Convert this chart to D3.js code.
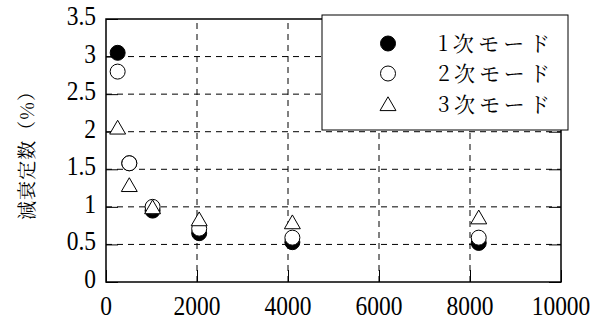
<!DOCTYPE html>
<html><head><meta charset="utf-8">
<script src="https://cdn.jsdelivr.net/npm/d3@7"></script>
<style>html,body{margin:0;padding:0;background:#fff;}svg{display:block;}</style>
</head><body>
<svg id="chart" width="608" height="322"></svg>
<script>
const xValues = [256, 512, 1024, 2048, 4096, 8192];
const mode1 = [3.05, 1.58, 0.95, 0.65, 0.53, 0.52];
const mode2 = [2.80, 1.58, 1.00, 0.71, 0.59, 0.59];
const mode3 = [2.05, 1.285, 0.99, 0.83, 0.79, 0.855];
const seriesNames = ["1次モード", "2次モード", "3次モード"];
const xTicks = [0, 2000, 4000, 6000, 8000, 10000];
const yTicks = [0, 0.5, 1, 1.5, 2, 2.5, 3, 3.5];
const yTickLabels = ["0", "0.5", "1", "1.5", "2", "2.5", "3", "3.5"];
const yTitle = "減衰定数（%）";

const NUM_FONT = '"Liberation Serif"';
const JP_FONT = '"Noto Serif CJK JP"';

const svg = d3.select("#chart");
const L = 106, R = 561, T = 19, B = 282;
const x = d3.scaleLinear().domain([0, 10000]).range([L, R]);
const y = d3.scaleLinear().domain([0, 3.5]).range([B, T]);

// gridlines
const g = svg.append("g");
g.selectAll(".gx").data(xTicks.slice(1, -1)).join("line")
  .attr("x1", d => x(d)).attr("x2", d => x(d)).attr("y1", B).attr("y2", T)
  .attr("stroke", "#000").attr("stroke-width", 1).attr("stroke-dasharray", "6,5");
g.selectAll(".gy").data(yTicks.slice(1, -1)).join("line")
  .attr("x1", L).attr("x2", R).attr("y1", d => y(d)).attr("y2", d => y(d))
  .attr("stroke", "#000").attr("stroke-width", 1).attr("stroke-dasharray", "6,5");

// axes with inside ticks
const xAxis = d3.axisBottom(x).tickValues(xTicks).tickSize(-12).tickFormat("");
const yAxis = d3.axisLeft(y).tickValues(yTicks).tickSize(-12).tickFormat("");
svg.append("g").attr("transform", `translate(0,${B})`).call(xAxis)
  .call(s => s.select(".domain").remove())
  .selectAll("line").attr("stroke", "#000").attr("stroke-width", 1);
svg.append("g").attr("transform", `translate(${L},0)`).call(yAxis)
  .call(s => s.select(".domain").remove())
  .selectAll("line").attr("stroke", "#000").attr("stroke-width", 1);
svg.append("g").attr("transform", `translate(${R},0)`).call(d3.axisRight(y).tickValues(yTicks).tickSize(-12).tickFormat(""))
  .call(s => s.select(".domain").remove())
  .selectAll("line").attr("stroke", "#000").attr("stroke-width", 1);

// frame
svg.append("rect").attr("x", L).attr("y", T).attr("width", R - L).attr("height", B - T)
  .attr("fill", "none").attr("stroke", "#000").attr("stroke-width", 1.5);

// tick labels
svg.selectAll(".xl").data(xTicks).join("text")
  .attr("transform", d => `translate(${x(d)},315) scale(1,1.12)`)
  .attr("text-anchor", "middle")
  .style("font-family", NUM_FONT)
  .attr("font-size", 23.5).attr("fill", "#000")
  .text(d => d);
svg.selectAll(".yl").data(yTicks).join("text")
  .attr("transform", d => `translate(96,${y(d) + 6}) scale(1,1.12)`)
  .attr("text-anchor", "end")
  .style("font-family", NUM_FONT)
  .attr("font-size", 23.5).attr("fill", "#000")
  .text((d, i) => yTickLabels[i]);

// y title
svg.append("text")
  .attr("transform", "translate(34,151) rotate(-90)")
  .attr("text-anchor", "middle")
  .style("font-family", JP_FONT)
  .attr("font-size", 19).attr("fill", "#000")
  .attr("textLength", 138).attr("lengthAdjust", "spacing")
  .text(yTitle);

// markers
const circleR = 7.5;
const triSym = d3.symbol().type(d3.symbolTriangle).size(110);
function drawSeries(vals, kind) {
  const pts = xValues.map((xv, i) => [xv, vals[i]]);
  if (kind === 0 || kind === 1) {
    svg.append("g").selectAll("circle").data(pts).join("circle")
      .attr("cx", d => x(d[0])).attr("cy", d => y(d[1])).attr("r", circleR)
      .attr("fill", kind === 0 ? "#000" : "#fff").attr("stroke", "#000").attr("stroke-width", 1);
  } else {
    svg.append("g").selectAll("path").data(pts).join("path")
      .attr("d", triSym)
      .attr("transform", d => `translate(${x(d[0])},${y(d[1]) + 1.5})`)
      .attr("fill", "#fff").attr("stroke", "#000").attr("stroke-width", 1);
  }
}
drawSeries(mode1, 0);
drawSeries(mode2, 1);
drawSeries(mode3, 2);

// legend
const lg = svg.append("g");
lg.append("rect").attr("x", 322).attr("y", 15).attr("width", 246).attr("height", 115)
  .attr("fill", "#fff").attr("stroke", "#000").attr("stroke-width", 1);
const rowsY = [43.5, 73.5, 104.5];
seriesNames.forEach((name, i) => {
  if (i < 2) {
    lg.append("circle").attr("cx", 388).attr("cy", rowsY[i]).attr("r", circleR)
      .attr("fill", i === 0 ? "#000" : "#fff").attr("stroke", "#000").attr("stroke-width", 1);
  } else {
    lg.append("path").attr("d", triSym).attr("transform", `translate(388,${rowsY[i] + 1.5})`)
      .attr("fill", "#fff").attr("stroke", "#000").attr("stroke-width", 1);
  }
  lg.append("text").attr("x", 438).attr("y", rowsY[i] + 7.5)
    .style("font-family", JP_FONT)
    .attr("font-size", 21).attr("fill", "#000")
    .attr("textLength", 112).attr("lengthAdjust", "spacing")
    .text(name);
});
</script>
</body></html>
